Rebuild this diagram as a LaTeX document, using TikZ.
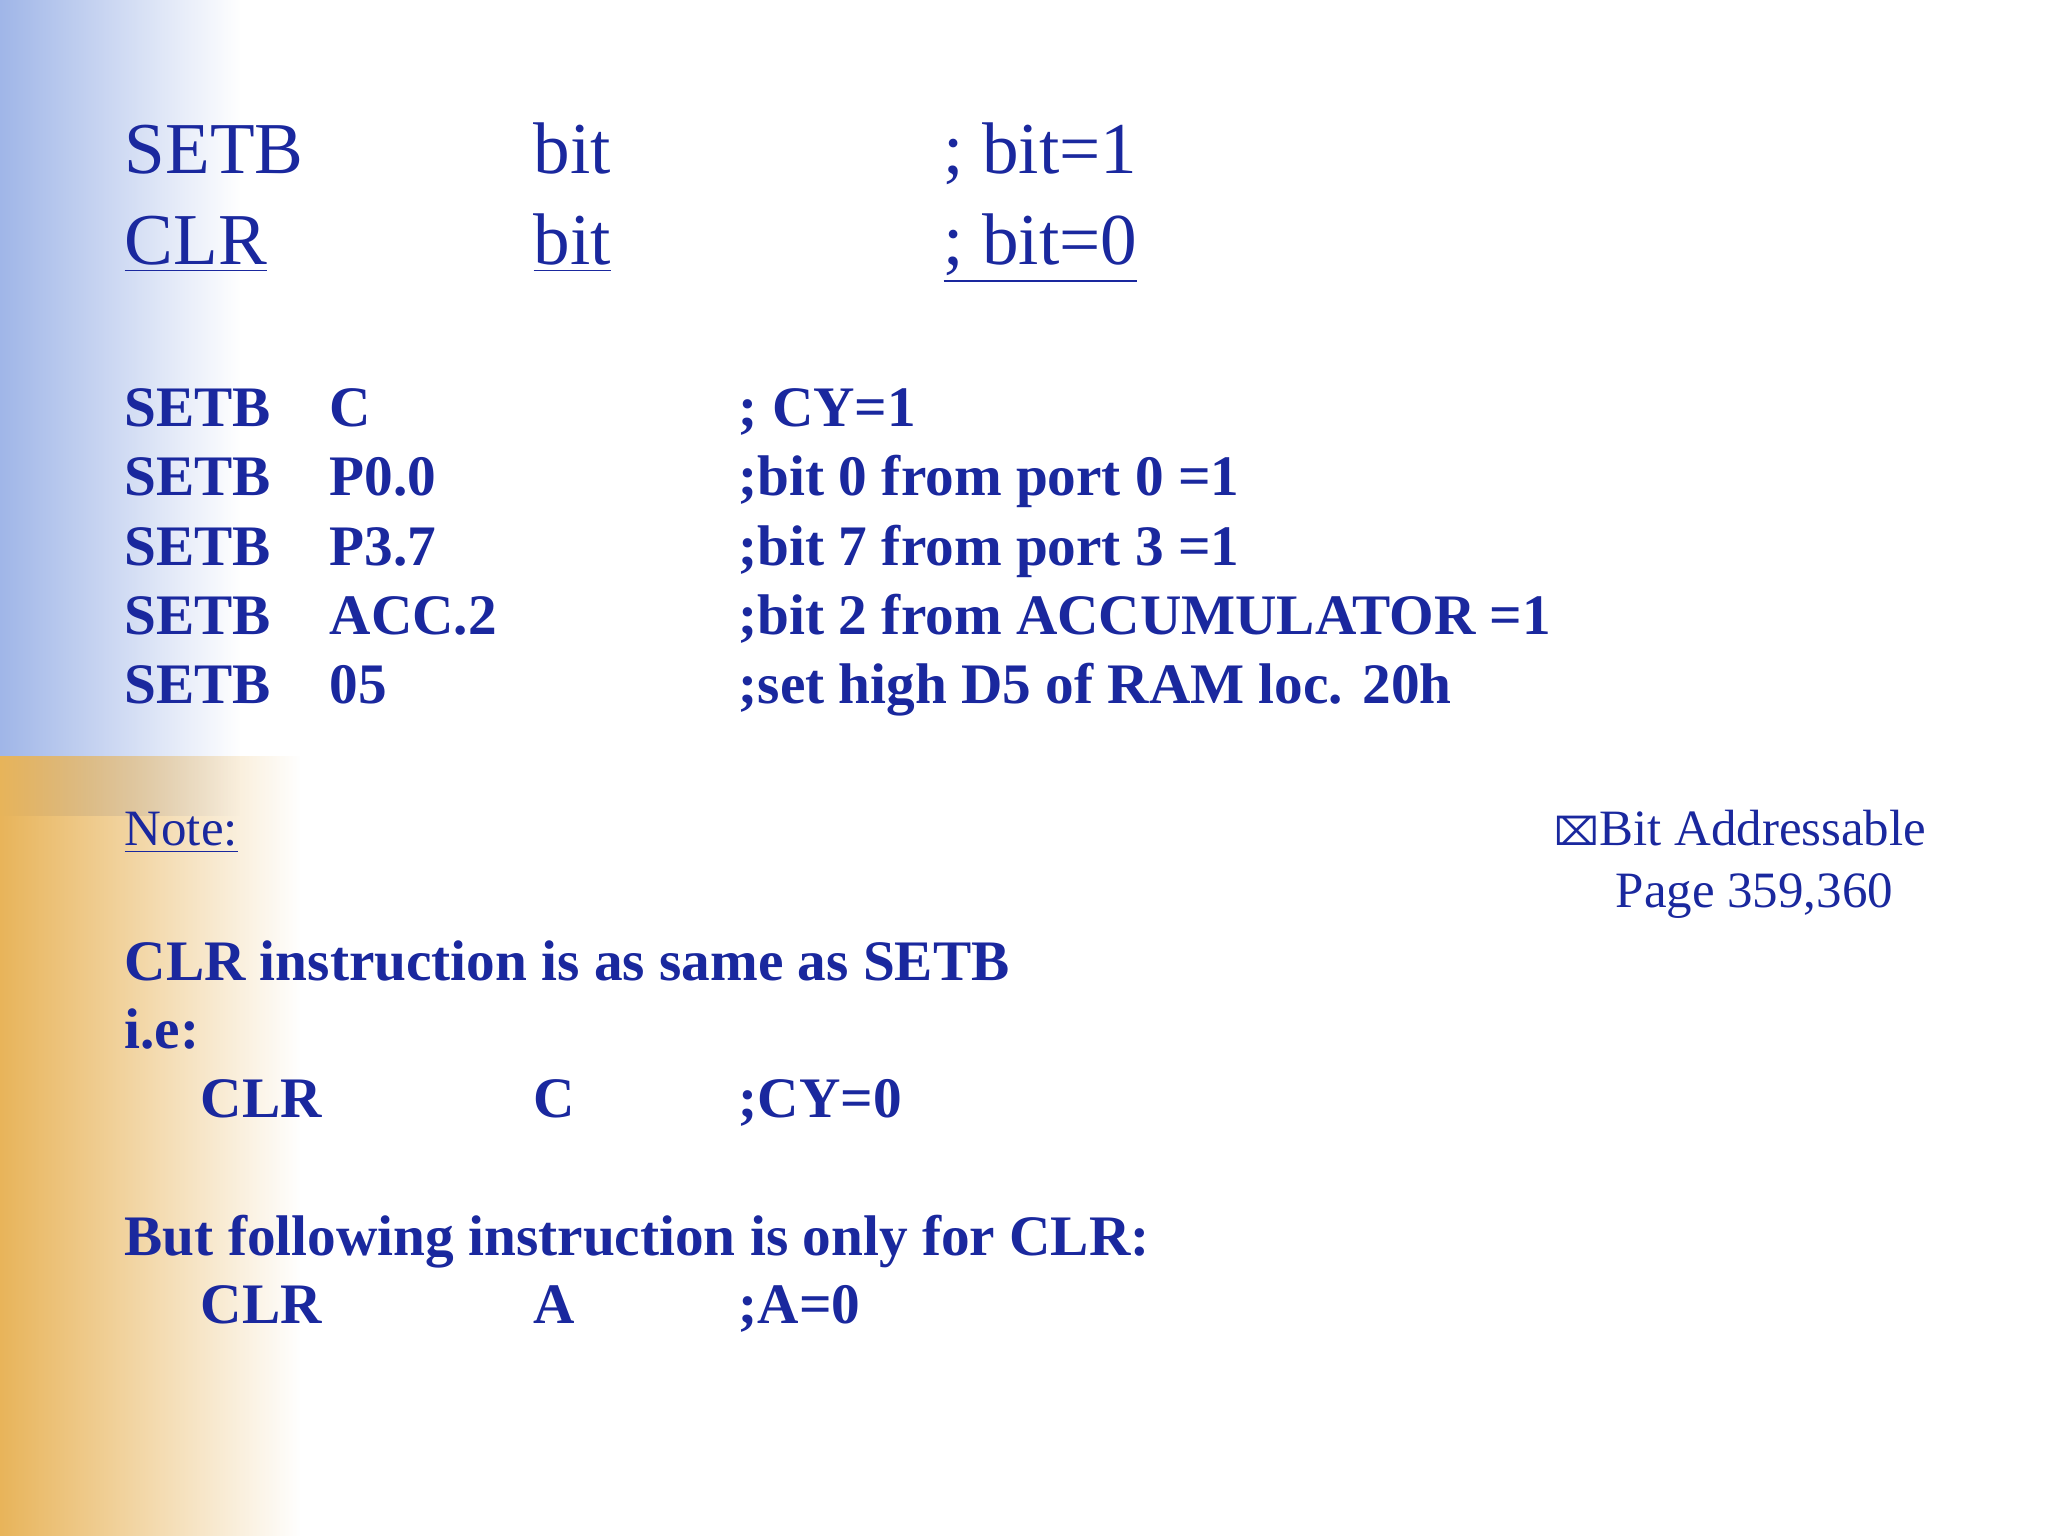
\documentclass[tikz,border=0pt]{standalone}
\usepackage{fontspec}
\setmainfont{Liberation Serif}
\newfontfamily\symfont{DejaVu Sans}
\usetikzlibrary{fadings}
\definecolor{txt}{RGB}{26,40,158}
\definecolor{bgblue}{RGB}{160,182,232}
\definecolor{bgorange}{RGB}{232,180,90}
\tikzset{
  big/.style={anchor=base west,text=txt,font=\fontsize{20.8}{24}\selectfont,inner sep=0pt},
  bb/.style={anchor=base west,text=txt,font=\fontsize{16.3}{20}\selectfont\bfseries,inner sep=0pt},
  nt/.style={anchor=base west,text=txt,font=\fontsize{14.5}{18}\selectfont,inner sep=0pt}
}
\begin{document}
\begin{tikzpicture}
\useasboundingbox (0,0) rectangle (20.48,15.36);
\fill[white] (0,0) rectangle (20.48,15.36);
\fill[bgblue,path fading=east] (0,7.2) rectangle (2.4,15.36);
\fill[bgorange,path fading=east] (0,0) rectangle (3.0,7.8);
\node[big] (s1) at (1.24,13.62) {SETB};
\node[big] (s2) at (5.33,13.62) {bit};
\node[big] (s3) at (9.43,13.62) {; bit=1};
\node[big] (c1) at (1.24,12.71) {\underline{CLR}};
\node[big] (c2) at (5.33,12.71) {\underline{bit}};
\node[big] (c3) at (9.43,12.71) {\underline{; bit=0}};
\node[bb] (r1a) at (1.24,11.09) {SETB};
\node[bb] (r1b) at (3.29,11.09) {C};
\node[bb] (r1c) at (7.38,11.09) {; CY=1};
\node[bb] (r2a) at (1.24,10.40) {SETB};
\node[bb] (r2b) at (3.29,10.40) {P0.0};
\node[bb] (r2c) at (7.38,10.40) {;bit 0 from port 0 =1};
\node[bb] (r3a) at (1.24,9.70) {SETB};
\node[bb] (r3b) at (3.29,9.70) {P3.7};
\node[bb] (r3c) at (7.38,9.70) {;bit 7 from port 3 =1};
\node[bb] (r4a) at (1.24,9.01) {SETB};
\node[bb] (r4b) at (3.29,9.01) {ACC.2};
\node[bb] (r4c) at (7.38,9.01) {;bit 2 from ACCUMULATOR =1};
\node[bb] (r5a) at (1.24,8.32) {SETB};
\node[bb] (r5b) at (3.29,8.32) {05};
\node[bb] (r5c) at (7.38,8.32) {;set high D5 of RAM loc. 20h};
\node[nt] (note) at (1.24,6.90) {\underline{Note:}};
\node[nt] (ba) at (15.54,6.90) {{\symfont\fontsize{11}{14}\selectfont ⌧}Bit Addressable};
\node[nt] (pg) at (16.15,6.28) {Page 359,360};
\node[bb] (l1) at (1.24,5.55) {CLR instruction is as same as SETB};
\node[bb] (l2) at (1.24,4.87) {i.e:};
\node[bb] (l3a) at (2.00,4.18) {CLR};
\node[bb] (l3b) at (5.33,4.18) {C};
\node[bb] (l3c) at (7.38,4.18) {;CY=0};
\node[bb] (l4) at (1.24,2.80) {But following instruction is only for CLR:};
\node[bb] (l5a) at (2.00,2.12) {CLR};
\node[bb] (l5b) at (5.33,2.12) {A};
\node[bb] (l5c) at (7.38,2.12) {;A=0};
\end{tikzpicture}
\end{document}
